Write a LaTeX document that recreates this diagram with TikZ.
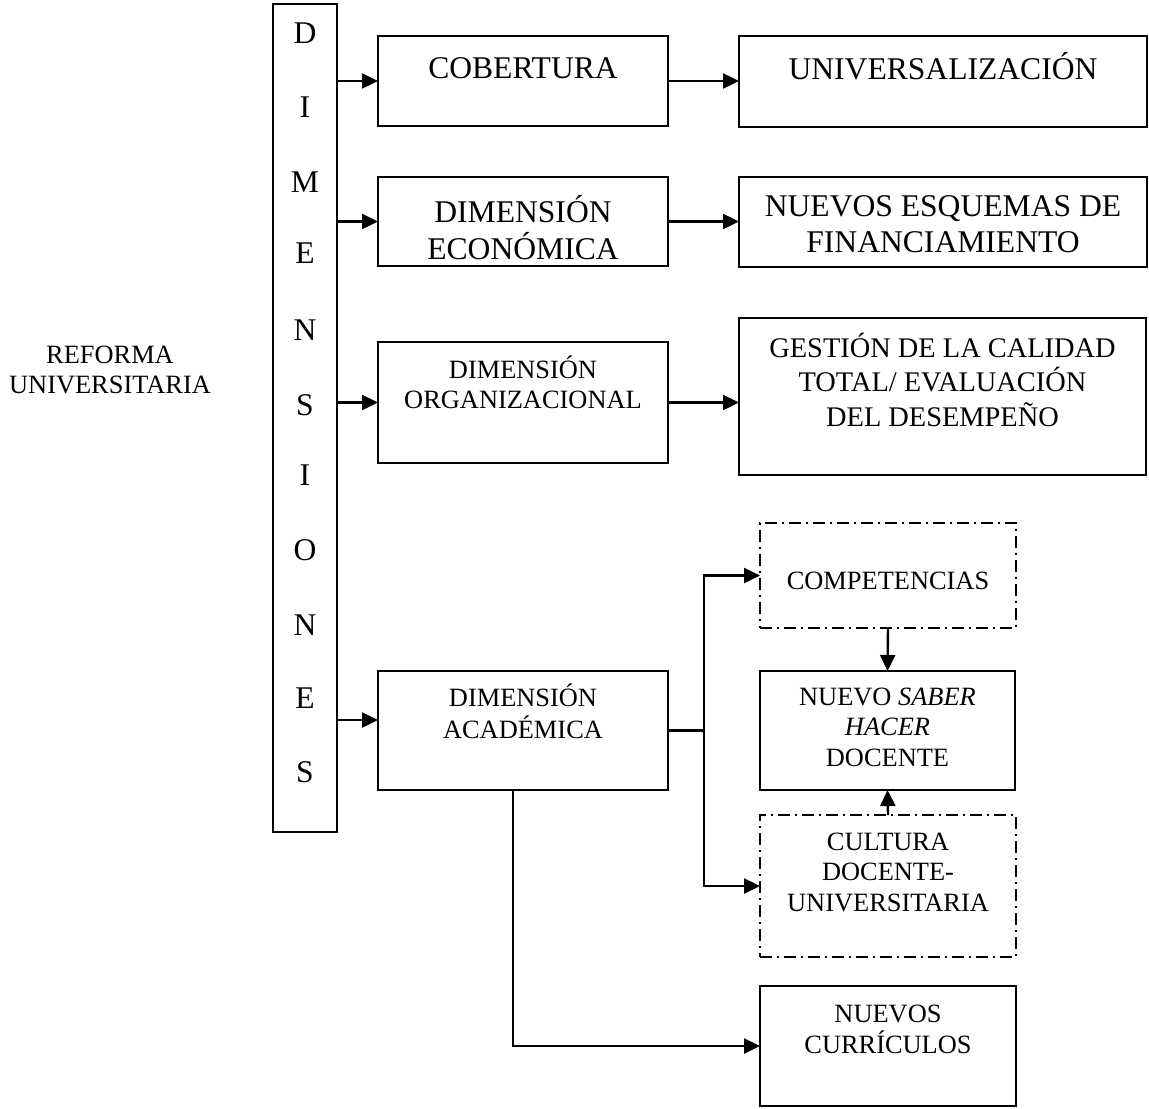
\documentclass[tikz,border=0pt]{standalone}
\usepackage{fontspec}
\setmainfont{Liberation Serif}
\usetikzlibrary{arrows.meta}
\newcommand\mlines[1]{\begin{tabular}[t]{@{}c@{}}#1\end{tabular}}
\begin{document}
\begin{tikzpicture}[x=0.5pt,y=-0.5pt,
  box/.style={draw,line width=1.15pt,inner sep=0pt,outer sep=0pt,rectangle},
  dbox/.style={box,dash pattern=on 6pt off 2.5pt on 1pt off 2.5pt},
  bigtxt/.style={font=\fontsize{15.8}{18.2}\selectfont,inner sep=0pt,anchor=base},
  midtxt/.style={font=\fontsize{14.2}{17.2}\selectfont,inner sep=0pt,anchor=base},
  smalltxt/.style={font=\fontsize{13.2}{15.4}\selectfont,inner sep=0pt,anchor=base},
  conn/.style={line width=1.2pt},
  arr/.style={line width=1.2pt,-{Triangle[length=8pt,width=7.5pt]}}]
\useasboundingbox (0,0) rectangle (1149,1108);

% boxes
\node[box,minimum width=32pt,minimum height=414pt] (dim) at (305,418) {};
\node[box,minimum width=145pt,minimum height=45pt] (cob) at (523,81) {};
\node[box,minimum width=204pt,minimum height=45.5pt] (univ) at (943,81.5) {};
\node[box,minimum width=145pt,minimum height=44.5pt] (econ) at (523,221.5) {};
\node[box,minimum width=204pt,minimum height=45pt] (esq) at (943,222) {};
\node[box,minimum width=145pt,minimum height=60.5pt] (org) at (523,402.5) {};
\node[box,minimum width=203.5pt,minimum height=78.5pt] (gest) at (942.5,396.5) {};
\node[dbox,minimum width=128pt,minimum height=52.5pt] (comp) at (888,575.5) {};
\node[box,minimum width=127.5pt,minimum height=59.5pt] (nsh) at (887.5,730.5) {};
\node[dbox,minimum width=128pt,minimum height=71pt] (cult) at (888,886) {};
\node[box,minimum width=145pt,minimum height=59.5pt] (acad) at (523,730.5) {};
\node[box,minimum width=128pt,minimum height=60pt] (curr) at (888,1046) {};

% texts
\node[smalltxt] (reft) at (110,363) {\mlines{REFORMA\\UNIVERSITARIA}};
\foreach \c/\yy [count=\i] in {D/33,I/107,M/182,E/253,N/330,S/405,I/475,O/550,N/625,E/698,S/772}
  \node[bigtxt,anchor=center] (l\i) at (305,\yy) {\c};
\node[bigtxt] (cobt) at (523,78.5) {COBERTURA};
\node[bigtxt] (univt) at (943,79.5) {UNIVERSALIZACIÓN};
\node[bigtxt,font=\fontsize{15.8}{16.3}\selectfont] (econt) at (523,222.5) {\mlines{DIMENSIÓN\\ECONÓMICA}};
\node[bigtxt] (esqt) at (943,216.5) {\mlines{NUEVOS ESQUEMAS DE\\FINANCIAMIENTO}};
\node[smalltxt] (orgt) at (523,378) {\mlines{DIMENSIÓN\\ORGANIZACIONAL}};
\node[midtxt] (gestt) at (942.5,357) {\mlines{GESTIÓN DE LA CALIDAD\\TOTAL/ EVALUACIÓN\\DEL DESEMPEÑO}};
\node[smalltxt] (compt) at (888,589) {COMPETENCIAS};
\node[smalltxt] (nsht) at (887.5,705) {\mlines{NUEVO \textit{SABER}\\\textit{HACER}\\DOCENTE}};
\node[smalltxt] (cultt) at (888,850) {\mlines{CULTURA\\DOCENTE-\\UNIVERSITARIA}};
\node[smalltxt] (acadt) at (523,706.5) {\mlines{DIMENSIÓN\\ACADÉMICA}};
\node[smalltxt] (currt) at (888,1022) {\mlines{NUEVOS\\CURRÍCULOS}};

% helper coordinates
\coordinate (jx) at (704,0);
\coordinate (bx) at (513,0);
\coordinate (ya) at (0,720);

% connectors
\draw[arr] (dim.east |- cob.west) -- (cob.west);
\draw[arr] (cob.east) -- (cob.east -| univ.west);
\draw[arr] (dim.east |- econ.west) -- (econ.west);
\draw[arr] (econ.east) -- (econ.east -| esq.west);
\draw[arr] (dim.east |- org.west) -- (org.west);
\draw[arr] (org.east) -- (org.east -| gest.west);
\draw[arr] (dim.east |- ya) -- (acad.west |- ya);
\draw[conn] (acad.east) -- (acad.east -| jx);
\draw[arr] (acad.east -| jx) |- (comp.west);
\draw[arr] (acad.east -| jx) |- (cult.west);
\draw[arr] (comp.south) -- (nsh.north);
\draw[arr] (cult.north) -- (nsh.south);
\draw[arr] (acad.south -| bx) |- (curr.west);
\end{tikzpicture}
\end{document}
